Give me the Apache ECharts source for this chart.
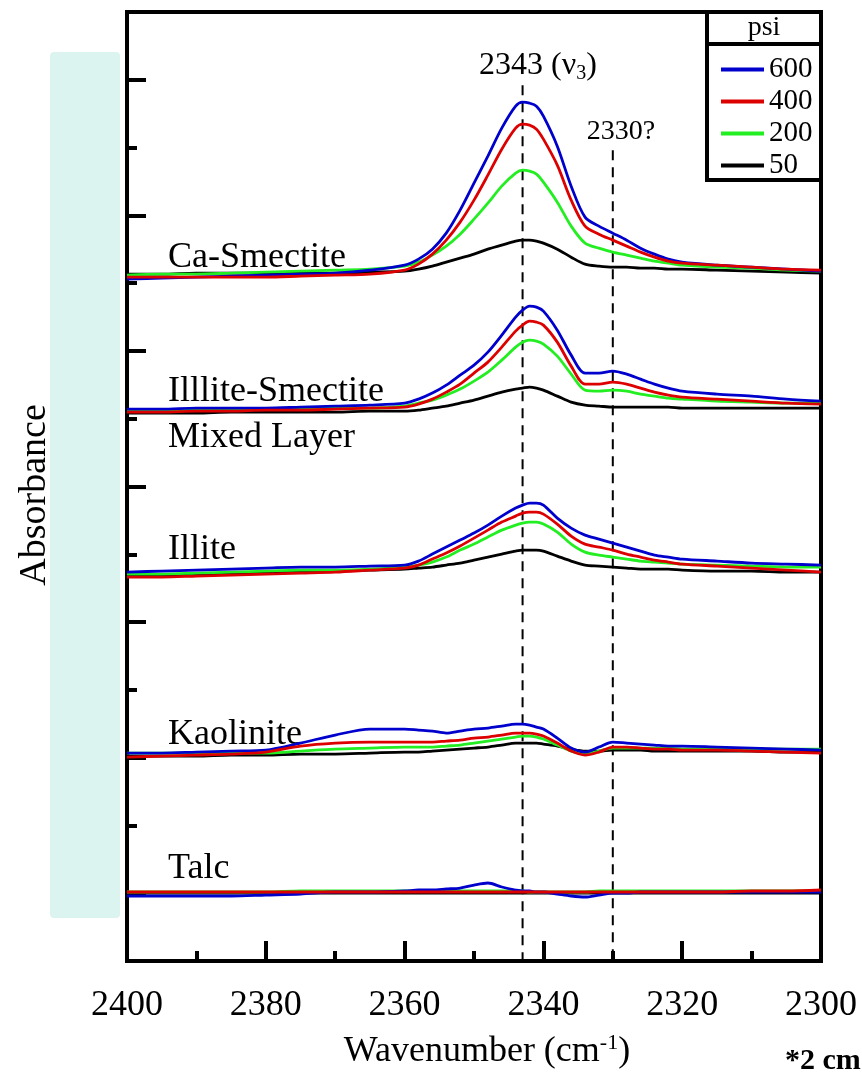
<!DOCTYPE html>
<html><head><meta charset="utf-8">
<script src="https://cdn.jsdelivr.net/npm/echarts@6/dist/echarts.min.js"></script>
<style>html,body{margin:0;padding:0;background:#fff}#c{width:862px;height:1076px}</style>
</head><body><div id="c"></div>
<script>
// Wavenumber grid (cm-1)
const wavenumbers = [2400,2395,2390,2385,2380,2375,2370,2365,2360,2358,2356,2354,2352,2350,2348,2346,2344,2343,2342,2341,2340,2338,2336,2334,2332,2330,2328,2326,2324,2322,2320,2315,2310,2305,2300];
const pressures = ['600','400','200','50'];
const drawOrder = ['50','200','600','400'];

// Absorbance (arbitrary stacked units) — Ca-Smectite
const caSmectite600 = [682,683,684,685,686,687,688,691,696,702,712,728,751,778,805,833,855,859,858,855,845,815,775,744,735,728,721,713,707,702,699,696,694,692,690];
const caSmectite400 = [684,684,684,684,684,685,686,687,691,697,707,721,739,761,786,812,833,837,836,832,822,796,761,735,727,721,715,709,704,700,698,696,694,692,691];
const caSmectite200 = [686,687,687,688,689,690,691,692,695,699,706,715,727,742,758,775,788,791,790,787,779,759,735,718,713,709,706,703,700,698,696,694,693,691,690];
const caSmectite50  = [687,687,688,688,688,688,688,689,690,692,695,699,703,707,712,716,720,721,721,720,718,712,704,697,695,694,694,693,693,692,692,691,690,689,688];
// Illite-Smectite mixed layer
const illSmec600 = [552,552,553,553,553,554,555,556,558,562,568,576,586,596,609,626,644,651,655,654,650,631,606,588,588,590,587,582,577,573,570,567,565,562,560];
const illSmec400 = [549,549,550,550,551,551,552,553,554,557,562,569,577,588,599,614,630,636,640,639,636,619,595,577,577,579,577,573,569,566,564,562,560,558,557];
const illSmec200 = [550,550,551,551,552,552,553,553,555,558,561,566,572,580,589,601,614,619,621,620,617,605,587,571,570,571,570,567,565,563,562,560,559,558,558];
const illSmec50  = [548,548,548,549,549,549,549,550,550,551,553,555,558,561,565,569,572,573,574,573,571,565,559,556,555,554,554,554,554,554,553,553,553,553,553];
// Illite
const illite600 = [389,390,391,392,393,394,394,395,396,400,407,414,421,428,436,445,453,456,458,458,456,443,433,426,422,418,414,410,406,404,402,400,398,397,396];
const illite400 = [384,384,385,386,387,388,389,391,393,396,402,408,415,423,431,439,445,448,449,449,447,437,425,417,414,411,407,404,401,399,397,395,393,391,389];
const illite200 = [387,387,388,389,390,391,391,392,394,396,399,404,411,417,424,431,436,438,439,439,437,429,417,409,406,404,402,400,399,398,397,396,395,394,394];
const illite50  = [386,386,387,387,388,389,390,391,392,393,394,396,398,401,404,407,410,411,411,411,410,405,400,396,395,394,393,392,392,392,391,390,390,389,389];
// Kaolinite
const kaolinite600 = [208,208,209,210,211,218,226,232,232,231,230,228,230,232,233,235,237,237,236,234,232,223,213,209,214,219,218,217,216,215,215,214,213,212,211];
const kaolinite400 = [204,205,206,207,209,215,218,219,219,219,219,220,221,223,224,226,228,228,228,227,225,218,210,206,209,214,214,213,212,212,211,211,210,209,208];
const kaolinite200 = [208,208,208,208,208,210,212,213,214,214,214,215,216,218,220,222,224,225,225,224,222,216,210,207,210,213,213,213,213,213,212,212,212,212,212];
const kaolinite50  = [205,205,205,206,206,207,207,208,209,209,210,211,212,213,214,216,218,218,218,218,217,215,212,210,210,211,211,211,210,210,210,210,210,209,209];
// Talc
const talc600 = [65,65,65,65,66,67,69,69,70,71,71,72,73,76,78,74,71,70,70,69,69,67,65,64,66,68,68,69,69,69,69,69,69,69,69];
const talc400 = [69,69,69,69,69,69,69,69,69,69,69,69,69,69,69,69,69,69,69,69,69,69,69,69,69,69,69,69,69,69,69,69,70,70,71];
const talc200 = [69,69,69,69,69,70,70,70,70,70,70,70,70,70,70,70,70,70,69,69,69,69,69,69,70,70,70,70,70,70,70,70,70,70,70];
const talc50  = [68,68,68,68,68,68,68,68,68,68,68,68,68,68,68,68,68,68,68,68,68,68,68,68,68,68,68,68,68,68,68,68,68,68,68];

// Reference dashed lines
const refWavenumbers = [2343, 2330];
const refTops = [876, 811];

const samples = [
  {'600':caSmectite600,'400':caSmectite400,'200':caSmectite200,'50':caSmectite50},
  {'600':illSmec600,'400':illSmec400,'200':illSmec200,'50':illSmec50},
  {'600':illite600,'400':illite400,'200':illite200,'50':illite50},
  {'600':kaolinite600,'400':kaolinite400,'200':kaolinite200,'50':kaolinite50},
  {'600':talc600,'400':talc400,'200':talc200,'50':talc50}
];
const colors = {'600':'#0000cc','400':'#dd0000','200':'#22ee22','50':'#000000'};
const FONT = 'Liberation Serif';

const series = [];
samples.forEach(s => {
  drawOrder.forEach(p => {
    series.push({
      name: p, type: 'line', smooth: 0.3, showSymbol: false, symbol: 'none',
      color: colors[p],
      lineStyle: {color: colors[p], width: 2.8},
      data: wavenumbers.map((w, i) => [w, s[p][i]]),
      animation: false, silent: true
    });
  });
});
refWavenumbers.forEach((w, i) => {
  series.push({
    name: 'ref' + i, type: 'line', showSymbol: false, symbol: 'none',
    lineStyle: {color: '#000', width: 2, type: [10, 7]},
    data: [[w, refTops[i]], [w, 0]], animation: false, silent: true, z: 1
  });
});

const sampleLabels = [
  {t: 'Ca-Smectite', y: 258},
  {t: 'Illlite-Smectite', y: 392},
  {t: 'Mixed Layer', y: 438},
  {t: 'Illite', y: 550},
  {t: 'Kaolinite', y: 735},
  {t: 'Talc', y: 869}
];

const graphic = [
  {type: 'rect', shape: {x: 50, y: 52, width: 70, height: 866, r: 4}, style: {fill: '#dcf4ef'}, z: -10},
  {type: 'text', x: 35, y: 495, rotation: Math.PI / 2, style: {text: 'Absorbance', font: '38px "Liberation Serif"', fill: '#000', align: 'center', verticalAlign: 'middle'}},
  {type: 'polyline', shape: {points: [[707, 12], [707, 180], [821, 180]]}, style: {stroke: '#000', lineWidth: 4, fill: null}},
  {type: 'line', shape: {x1: 707, y1: 44, x2: 821, y2: 44}, style: {stroke: '#000', lineWidth: 4}},
  {type: 'text', x: 764, y: 28, style: {text: 'psi', font: '28px "Liberation Serif"', fill: '#000', align: 'center', verticalAlign: 'middle'}},
  {type: 'text', x: 538, y: 66, style: {
    text: '{a|2343 (ν}{s|3}{a|)}', align: 'center', verticalAlign: 'middle',
    rich: {a: {font: '32px "Liberation Serif"', fill: '#000', lineHeight: 36},
           s: {font: '20px "Liberation Serif"', fill: '#000', lineHeight: 18, verticalAlign: 'bottom'}}}},
  {type: 'text', x: 621, y: 132, style: {text: '2330?', font: '28px "Liberation Serif"', fill: '#000', align: 'center', verticalAlign: 'middle'}},
  {type: 'text', x: 487, y: 1052, style: {
    text: '{a|Wavenumber (cm}{s|-1}{a|)}', align: 'center', verticalAlign: 'middle',
    rich: {a: {font: '36px "Liberation Serif"', fill: '#000', lineHeight: 40},
           s: {font: '22px "Liberation Serif"', fill: '#000', lineHeight: 12, verticalAlign: 'top'}}}},
  {type: 'text', x: 785, y: 1061, style: {text: '*2 cm', font: 'bold 30px "Liberation Serif"', fill: '#000', align: 'left', verticalAlign: 'middle'}}
];
sampleLabels.forEach(l => graphic.push({type: 'text', x: 168, y: l.y, style: {text: l.t, font: '36px "Liberation Serif"', fill: '#000', align: 'left', verticalAlign: 'middle'}}));

const chart = echarts.init(document.getElementById('c'), null, {renderer: 'canvas'});
chart.setOption({
  animation: false,
  backgroundColor: '#fff',
  grid: {left: 127, right: 41, top: 12, bottom: 115, show: true, borderColor: '#000', borderWidth: 4, backgroundColor: 'transparent'},
  legend: {
    data: pressures, orient: 'vertical', left: 721, top: 55, padding: 0, icon: 'rect',
    itemWidth: 43, itemHeight: 4, itemGap: 3, selectedMode: false,
    textStyle: {fontFamily: FONT, fontSize: 29, color: '#000'}
  },
  xAxis: {
    type: 'value', min: 2300, max: 2400, inverse: true, interval: 20,
    axisLine: {show: false},
    axisTick: {inside: true, length: 20, lineStyle: {width: 4, color: '#000'}},
    minorTick: {show: true, splitNumber: 2, length: 10, lineStyle: {width: 4, color: '#000'}},
    axisLabel: {fontFamily: FONT, fontSize: 36, color: '#000', margin: 27, formatter: v => String(v)},
    splitLine: {show: false}
  },
  yAxis: {
    type: 'value', min: 0, max: 949.2, interval: 135.6, axisLine: {show: false},
    axisTick: {inside: true, length: 10, lineStyle: {width: 4, color: '#000'}},
    minorTick: {show: true, splitNumber: 2, length: 19, lineStyle: {width: 4, color: '#000'}},
    axisLabel: {show: false}, splitLine: {show: false}
  },
  graphic: graphic,
  series: series
});
</script></body></html>
